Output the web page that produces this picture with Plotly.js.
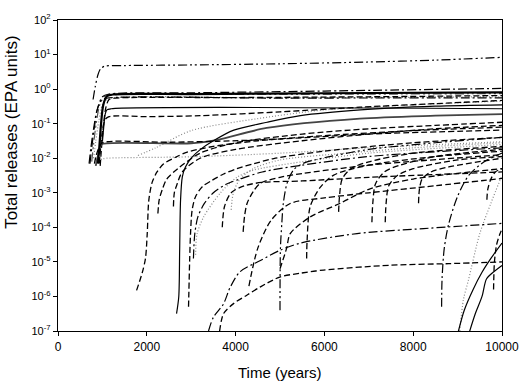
<!DOCTYPE html>
<html><head><meta charset="utf-8">
<script src="https://cdn.plot.ly/plotly-3.0.1.min.js"></script>
<style>html,body{margin:0;padding:0;background:#fff}#chart{width:526px;height:384px}</style>
</head><body><div id="chart"></div>
<script>
// ---- axis ticks ----
const xTickVals = [0, 2000, 4000, 6000, 8000, 10000];
const xTickText = ['0', '2000', '4000', '6000', '8000', '10000'];
const yTickVals = [1e-7, 1e-6, 1e-5, 1e-4, 1e-3, 1e-2, 1e-1, 1e0, 1e1, 1e2];
const yTickText = ['10<sup>-7</sup>','10<sup>-6</sup>','10<sup>-5</sup>','10<sup>-4</sup>','10<sup>-3</sup>','10<sup>-2</sup>','10<sup>-1</sup>','10<sup>0</sup>','10<sup>1</sup>','10<sup>2</sup>'];

// ---- early releases (time in years, total releases in EPA units) ----
const E1_t = [790, 840, 900, 960, 1050, 1500, 3000, 5000, 7000, 8500, 10000];
const E1_v = [0.5, 1.2, 2.6, 3.9, 4.6, 4.8, 5.0, 5.4, 6.1, 6.9, 8.3];
const E2_t = [900, 930, 970, 1020, 1100, 1250, 3000, 6000, 10000];
const E2_v = [0.007, 0.02, 0.1, 0.35, 0.62, 0.7, 0.72, 0.76, 0.8];
const E3_t = [720, 760, 820, 900, 1000, 1150, 3000, 6000, 10000];
const E3_v = [0.007, 0.02, 0.08, 0.3, 0.6, 0.72, 0.78, 0.88, 1.05];
const E4_t = [760, 800, 860, 940, 1050, 1200, 5000, 10000];
const E4_v = [0.008, 0.025, 0.1, 0.35, 0.62, 0.68, 0.7, 0.74];
const E5_t = [950, 980, 1020, 1080, 1150, 1300, 4000, 7000, 10000];
const E5_v = [0.006, 0.02, 0.08, 0.3, 0.5, 0.55, 0.57, 0.6, 0.65];
const E6_t = [700, 740, 800, 880, 980, 1100, 5000, 10000];
const E6_v = [0.007, 0.02, 0.07, 0.25, 0.48, 0.55, 0.55, 0.56];
const E7_t = [1000, 1030, 1060, 1100, 1200, 10000];
const E7_v = [0.03, 0.08, 0.18, 0.25, 0.27, 0.27];
const E8_t = [930, 960, 1000, 1060, 1150, 2000, 3200, 5000, 6800, 8500, 10000];
const E8_v = [0.007, 0.02, 0.06, 0.13, 0.16, 0.16, 0.17, 0.22, 0.3, 0.38, 0.47];
const E9_t = [850, 900, 950, 1000, 3000, 3600, 4700, 6800, 8500, 10000];
const E9_v = [0.006, 0.012, 0.022, 0.026, 0.027, 0.034, 0.075, 0.14, 0.17, 0.19];
const E10_t = [820, 860, 920, 1000, 2500, 3600, 5000, 7000, 10000];
const E10_v = [0.007, 0.012, 0.02, 0.028, 0.029, 0.031, 0.036, 0.05, 0.065];
const E11_t = [900, 1000, 1100, 3000, 5000, 7000, 10000];
const E11_v = [0.0085, 0.0095, 0.01, 0.011, 0.014, 0.02, 0.03];
const E12_t = [800, 850, 920, 1000, 1100, 5000, 10000];
const E12_v = [0.01, 0.03, 0.12, 0.35, 0.5, 0.55, 0.6];

// ---- middle releases ----
const L1_t = [1770, 1900, 1970, 2010, 2045, 2120, 2230, 2380, 2650, 2910, 3500, 4500, 6000, 8000, 10000];
const L1_v = [1.5e-6, 5e-6, 1.26e-5, 6.6e-5, 6e-4, 2e-3, 4e-3, 6.9e-3, 0.0107, 0.015, 0.022, 0.032, 0.045, 0.063, 0.079];
const L2_t = [2670, 2720, 2740, 2760, 2800, 2870, 3020, 3210, 3500, 3960, 4710, 5460, 6810, 8500, 10000];
const L2_v = [3.2e-7, 9.8e-7, 2.2e-5, 6e-4, 2.9e-3, 5.6e-3, 0.0107, 0.018, 0.032, 0.065, 0.11, 0.17, 0.25, 0.32, 0.35];
const L3_t = [2940, 2965, 2985, 3020, 3095, 3250, 3470, 3730, 4030, 4410, 4860, 6000, 8000, 10000];
const L3_v = [5e-7, 1.1e-5, 6.6e-5, 3.1e-4, 7.6e-4, 1.5e-3, 2.3e-3, 3.5e-3, 5e-3, 6.9e-3, 9.8e-3, 0.016, 0.028, 0.04];
const L4_t = [3050, 3080, 3150, 3300, 3500, 3800, 4100, 4600, 5500, 7000, 10000];
const L4_v = [1.26e-5, 6.3e-5, 2e-4, 5e-4, 1e-3, 1.8e-3, 2.5e-3, 4e-3, 6.3e-3, 0.0112, 0.02];
const L5_t = [3100, 3130, 3280, 3660, 4030, 4400, 5500, 7000, 10000];
const L5_v = [1.6e-5, 6.3e-5, 2e-4, 1e-3, 2.8e-3, 4.5e-3, 7.9e-3, 0.014, 0.025];
const L6_t = [4170, 4200, 4260, 4400, 4560, 5000, 5500, 7000, 10000];
const L6_v = [7.4e-5, 2e-4, 5e-4, 1.1e-3, 1.9e-3, 2.8e-3, 3.6e-3, 6.3e-3, 0.0126];
const M1_t = [2250, 2280, 2350, 2450, 2700, 3200, 4000, 5500, 7000, 8500, 10000];
const M1_v = [2.5e-4, 6.3e-4, 1.26e-3, 2.5e-3, 5e-3, 0.014, 0.028, 0.05, 0.071, 0.089, 0.11];
const M2_t = [2600, 2620, 2670, 2800, 3200, 4000, 5500, 7000, 8500, 10000];
const M2_v = [4e-4, 1e-3, 1.6e-3, 4e-3, 0.01, 0.018, 0.032, 0.05, 0.071, 0.089];
const M3_t = [1800, 2200, 3000, 4500, 6000, 8000, 10000];
const M3_v = [0.012, 0.02, 0.063, 0.14, 0.25, 0.35, 0.45];
const M4_t = [3900, 3950, 4100, 4400, 5000, 6500, 8000, 10000];
const M4_v = [3.2e-4, 1e-3, 2.5e-3, 5e-3, 8.9e-3, 0.014, 0.02, 0.028];
const M5_t = [3700, 3750, 3900, 4200, 4600, 5500, 7000, 10000];
const M5_v = [1e-4, 4e-4, 1e-3, 1.6e-3, 2e-3, 2.2e-3, 2.8e-3, 4e-3];

// ---- low-level releases ----
const D1_t = [3390, 3500, 3725, 3875, 4100, 4560, 5010, 5460, 6735, 8235, 10000];
const D1_v = [1e-7, 2.5e-7, 6e-7, 1.8e-6, 5.2e-6, 1.1e-5, 2.2e-5, 3.5e-5, 6.6e-5, 9.2e-5, 1.3e-4];
const D2_t = [3640, 3730, 3960, 4260, 4560, 5010, 5460, 5980, 7480, 8800, 10000];
const D2_v = [1e-7, 3.2e-7, 6.3e-7, 1.1e-6, 1.9e-6, 3.7e-6, 4.7e-6, 5.8e-6, 8e-6, 8.9e-6, 1e-5];
const D3_t = [5000, 5010, 5040, 5075, 5160, 5310, 5535, 6060, 7000, 8500, 10000];
const D3_v = [4e-7, 2.5e-5, 1.26e-4, 5e-4, 1.9e-3, 4.7e-3, 7.2e-3, 0.0107, 0.018, 0.028, 0.04];
const D4_t = [4300, 4500, 4800, 5230, 6000, 7000, 8500, 10000];
const D4_v = [2e-6, 2.5e-5, 1.6e-4, 4.9e-4, 7.1e-4, 1e-3, 1.6e-3, 2.6e-3];
const D5_t = [5000, 5150, 5230, 5680, 6360, 7000, 8000, 10000];
const D5_v = [6.3e-6, 2.5e-5, 6.6e-5, 2e-4, 5e-4, 1.26e-3, 2.5e-3, 5e-3];

// ---- late releases ----
const V1_t = [5600, 5610, 5680, 5900, 6200, 7000, 8500, 10000];
const V1_v = [1.26e-5, 4e-5, 4e-4, 1.4e-3, 3.2e-3, 6.3e-3, 0.0112, 0.016];
const V2_t = [6320, 6340, 6400, 6600, 7000, 8000, 10000];
const V2_v = [2.8e-4, 7.9e-4, 2.5e-3, 5e-3, 7.9e-3, 0.014, 0.022];
const V3_t = [7070, 7090, 7150, 7350, 7700, 8500, 10000];
const V3_v = [1.4e-4, 5e-4, 1.8e-3, 4e-3, 6.3e-3, 0.0112, 0.018];
const V4_t = [7370, 7390, 7450, 7650, 8000, 9000, 10000];
const V4_v = [1.4e-4, 5e-4, 1.6e-3, 3.2e-3, 5e-3, 8.9e-3, 0.0112];
const V5_t = [8120, 8140, 8200, 8400, 8800, 10000];
const V5_v = [5e-4, 1.26e-3, 2.5e-3, 4e-3, 5.6e-3, 0.01];
const V6_t = [9660, 9680, 9750, 9850, 10000];
const V6_v = [6.3e-4, 1.26e-3, 2.5e-3, 4e-3, 5e-3];
const V7_t = [9810, 9830, 9880, 9950, 10000];
const V7_v = [1.6e-6, 1e-5, 3.2e-5, 6.3e-5, 8.9e-5];
const S1_t = [9000, 9150, 9350, 9550, 9750, 10000];
const S1_v = [8e-8, 4e-7, 1.6e-6, 5e-6, 1.26e-5, 3.5e-5];
const S2_t = [9250, 9400, 9550, 9650, 9800, 10000];
const S2_v = [8e-8, 3.2e-7, 1e-6, 3.2e-6, 5e-6, 7.9e-6];
const P1_t = [9050, 9130, 9250, 9500, 9750, 10000];
const P1_v = [1e-7, 7.9e-7, 3.2e-6, 6.6e-5, 5e-4, 3.2e-3];
const Q1_t = [8640, 8650, 8700, 8800, 9000, 9250, 9600, 10000];
const Q1_v = [5e-7, 3.2e-6, 2.5e-5, 1.26e-4, 7.9e-4, 3.2e-3, 7.9e-3, 0.014];

// ---- line styles ----
const styles = {
  solid:   {dash: 'solid', color: '#000', width: 1.2},
  thick:   {dash: 'solid', color: '#000', width: 2.2},
  grayThick: {dash: 'solid', color: '#444', width: 1.8},
  dash:    {dash: '6px,3px', color: '#000', width: 1.3},
  dashdot: {dash: '9px,3px,2px,3px', color: '#000', width: 1.2},
  dashdotdot: {dash: '9px,3px,2px,3px,2px,3px', color: '#000', width: 1.2},
  grayDDD: {dash: '9px,3px,2px,3px,2px,3px', color: '#555', width: 1.2},
  dot:     {dash: '1px,2px', color: '#888', width: 1.2}
};

const series = [
  [E11_t, E11_v, 'dot'], [E12_t, E12_v, 'dot'], [M3_t, M3_v, 'dot'], [L5_t, L5_v, 'dot'], [M4_t, M4_v, 'dot'], [P1_t, P1_v, 'dot'],
  [E1_t, E1_v, 'dashdotdot'], [E3_t, E3_v, 'dashdot'], [E4_t, E4_v, 'grayDDD'], [E5_t, E5_v, 'dash'],
  [E6_t, E6_v, 'dashdot'], [E7_t, E7_v, 'solid'], [E8_t, E8_v, 'dash'], [E9_t, E9_v, 'grayThick'],
  [E10_t, E10_v, 'dash'], [E2_t, E2_v, 'thick'],
  [L1_t, L1_v, 'dash'], [L2_t, L2_v, 'solid'], [L3_t, L3_v, 'dash'], [L4_t, L4_v, 'dashdot'], [L6_t, L6_v, 'dash'],
  [M1_t, M1_v, 'dash'], [M2_t, M2_v, 'dash'], [M5_t, M5_v, 'dash'],
  [D1_t, D1_v, 'dashdot'], [D2_t, D2_v, 'dash'], [D3_t, D3_v, 'dashdotdot'], [D4_t, D4_v, 'dash'], [D5_t, D5_v, 'dash'],
  [V1_t, V1_v, 'dash'], [V2_t, V2_v, 'dash'], [V3_t, V3_v, 'dash'], [V4_t, V4_v, 'dash'], [V5_t, V5_v, 'dash'],
  [V6_t, V6_v, 'dash'], [V7_t, V7_v, 'dash'],
  [S1_t, S1_v, 'solid'], [S2_t, S2_v, 'solid'], [Q1_t, Q1_v, 'dashdot']
];

const traces = series.map(([t, v, s]) => ({
  x: t, y: v, type: 'scatter', mode: 'lines',
  line: Object.assign({shape: 'spline', smoothing: 0.8}, styles[s]),
  hoverinfo: 'skip'
}));

const layout = {
  width: 526, height: 384,
  margin: {l: 58, r: 24, t: 20, b: 53, pad: 0},
  paper_bgcolor: '#fff', plot_bgcolor: '#fff',
  showlegend: false,
  font: {family: 'Liberation Sans, Arial, sans-serif', color: '#000', size: 12},
  xaxis: {
    range: [0, 10000], tickvals: xTickVals, ticktext: xTickText,
    ticks: 'outside', ticklen: 4, tickcolor: '#000', tickwidth: 1,
    showline: true, mirror: true, linecolor: '#000', linewidth: 1.2,
    showgrid: false, zeroline: false, tickfont: {size: 12}
  },
  yaxis: {
    type: 'log', range: [-7, 2], tickvals: yTickVals, ticktext: yTickText,
    ticks: 'outside', ticklen: 4, tickcolor: '#000', tickwidth: 1,
    showline: true, mirror: true, linecolor: '#000', linewidth: 1.2,
    showgrid: false, zeroline: false, tickfont: {size: 11}
  },
  annotations: [
    {text: 'Total releases (EPA units)', xref: 'paper', yref: 'paper', x: -0.104, y: 0.64,
     xanchor: 'center', yanchor: 'middle', textangle: -90, showarrow: false, font: {size: 17}},
    {text: 'Time (years)', xref: 'paper', yref: 'paper', x: 0.5, y: -0.132,
     xanchor: 'center', yanchor: 'middle', showarrow: false, font: {size: 15}}
  ]
};

Plotly.newPlot('chart', traces, layout, {staticPlot: true, displayModeBar: false});
</script>
</body></html>
